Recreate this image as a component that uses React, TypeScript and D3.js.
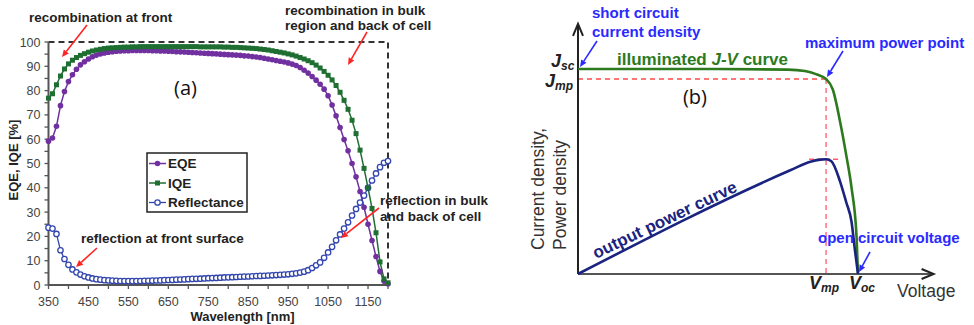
import React from "react";
import * as d3 from "d3";

// ---------- Panel (a): quantum efficiency and reflectance ----------
const wavelengths = [
  350, 360, 370, 380, 390, 400, 410, 420, 430, 440,
  450, 460, 470, 480, 490, 500, 510, 520, 530, 540,
  550, 560, 570, 580, 590, 600, 610, 620, 630, 640,
  650, 660, 670, 680, 690, 700, 710, 720, 730, 740,
  750, 760, 770, 780, 790, 800, 810, 820, 830, 840,
  850, 860, 870, 880, 890, 900, 910, 920, 930, 940,
  950, 960, 970, 980, 990, 1000, 1010, 1020, 1030, 1040,
  1050, 1060, 1070, 1080, 1090, 1100, 1110, 1120, 1130, 1140,
  1150, 1160, 1170, 1180, 1190, 1200,
];

const eqe = [
  59.2, 60.5, 65.3, 73.8, 79.6, 83.7, 86.5, 88.8, 90.6, 91.9,
  93.0, 93.9, 94.6, 95.1, 95.5, 95.8, 96.0, 96.2, 96.3, 96.4,
  96.4, 96.5, 96.5, 96.5, 96.5, 96.5, 96.4, 96.4, 96.3, 96.3,
  96.2, 96.1, 96.0, 95.95, 95.9, 95.8, 95.7, 95.6, 95.5, 95.4,
  95.3, 95.2, 95.1, 95.0, 94.9, 94.8, 94.7, 94.6, 94.5, 94.3,
  94.2, 94.0, 93.8, 93.6, 93.3, 93.0, 92.7, 92.4, 92.1, 91.8,
  91.4, 90.9, 90.3, 89.5, 88.4, 87.2, 85.8, 84.3, 82.6, 80.6,
  77.9, 74.1, 69.6, 64.8, 59.9, 55.2, 50.0, 44.5, 38.5, 32.0,
  25.0, 18.3, 11.7, 5.6, 1.6, 0.5,
];

const iqe = [
  76.9, 78.7, 82.4, 86.0, 88.9, 91.0, 92.5, 93.6, 94.5, 95.2,
  95.8, 96.3, 96.7, 97.0, 97.3, 97.5, 97.6, 97.7, 97.8, 97.9,
  97.9, 98.0, 98.0, 98.1, 98.1, 98.1, 98.1, 98.1, 98.1, 98.1,
  98.1, 98.1, 98.1, 98.1, 98.1, 98.1, 98.1, 98.1, 98.0, 98.0,
  98.0, 98.0, 98.0, 98.0, 97.9, 97.9, 97.8, 97.8, 97.7, 97.6,
  97.5, 97.4, 97.3, 97.1, 96.9, 96.7, 96.4, 96.1, 95.8, 95.5,
  95.1, 94.7, 94.2, 93.6, 93.0, 92.3, 91.5, 90.5, 89.3, 87.9,
  86.3, 84.4, 82.1, 79.3, 76.0, 72.3, 67.8, 62.3, 55.5, 48.0,
  40.0, 31.5, 21.5, 9.5, 2.5, 0.9,
];

const reflectance = [
  23.6, 23.2, 21.0, 14.3, 10.7, 8.3, 6.4, 5.2, 4.3, 3.6,
  3.1, 2.7, 2.4, 2.2, 2.0, 1.9, 1.8, 1.7, 1.65, 1.6,
  1.6, 1.6, 1.6, 1.65, 1.7, 1.75, 1.8, 1.85, 1.9, 2.0,
  2.05, 2.1, 2.2, 2.25, 2.3, 2.4, 2.5, 2.55, 2.6, 2.7,
  2.8, 2.85, 2.9, 3.0, 3.1, 3.15, 3.2, 3.3, 3.4, 3.45,
  3.5, 3.6, 3.7, 3.75, 3.8, 3.9, 4.0, 4.1, 4.2, 4.3,
  4.4, 4.6, 4.8, 5.1, 5.5, 6.1, 7.0, 8.1, 9.3, 11.2,
  13.4, 15.7, 18.4, 20.8, 23.2, 25.8, 28.6, 31.3, 33.9, 36.8,
  40.0, 43.0, 45.9, 48.5, 50.3, 51.0,
];

const yTicksA = [0, 10, 20, 30, 40, 50, 60, 70, 80, 90, 100];
const yMinorA = [5, 15, 25, 35, 45, 55, 65, 75, 85, 95];
const xTicksA = [350, 450, 550, 650, 750, 850, 950, 1050, 1150];
const xMinorA = [400, 500, 600, 700, 800, 900, 1000, 1100, 1200];

// ---------- Panel (b): schematic J-V and power curves (normalised) ----------
const jvVoltage = [0, 0.5, 0.75, 0.81, 0.85, 0.886, 0.91, 0.936, 0.958, 0.977, 0.995, 1.0];
const jvCurrent = [1, 1, 0.997, 0.99, 0.975, 0.951, 0.9, 0.743, 0.58, 0.42, 0.176, 0];
const powerVoltage = [0, 0.76, 0.83, 0.865, 0.886, 0.905, 0.936, 0.958, 0.977, 0.989, 1.0];
const powerValue = [0, 0.507, 0.548, 0.558, 0.56, 0.55, 0.451, 0.35, 0.254, 0.117, 0];
const vmp = 0.886;
const jmp = 0.951;
const pmax = 0.56;

const FONT = "'Liberation Sans', Arial, Helvetica, sans-serif";
const C_EQE = "#7030a0";
const C_IQE = "#1f6e32";
const C_REF = "#3346b0";
const C_RED = "#ff2424";
const C_LBL = "#2a2aff";
const C_JV = "#2d7a1e";
const C_PWR = "#1a2380";

type ArrowProps = { x1: number; y1: number; x2: number; y2: number; color: string; head?: number };
function Arrow({ x1, y1, x2, y2, color, head = 7 }: ArrowProps) {
  const a = Math.atan2(y2 - y1, x2 - x1);
  const w = head * 0.45;
  const bx = x2 - head * Math.cos(a);
  const by = y2 - head * Math.sin(a);
  const p1 = [bx + w * Math.sin(a), by - w * Math.cos(a)];
  const p2 = [bx - w * Math.sin(a), by + w * Math.cos(a)];
  return (
    <g>
      <line x1={x1} y1={y1} x2={bx} y2={by} stroke={color} strokeWidth={1.6} />
      <path d={`M${x2},${y2}L${p1[0]},${p1[1]}L${p2[0]},${p2[1]}Z`} fill={color} />
    </g>
  );
}

function PanelA() {
  const x = d3.scaleLinear().domain([350, 1200]).range([48.5, 388]);
  const y = d3.scaleLinear().domain([0, 100]).range([285, 42]);
  const line = (vals: number[]) =>
    d3
      .line<number>()
      .x((_, i) => x(wavelengths[i]))
      .y((d) => y(d))(vals) as string;
  const sq = 5;
  return (
    <g fontFamily={FONT}>
      {/* 100 % reference frame */}
      <path
        d={`M${x(350)},${y(100)}H${x(1200)}V${y(0)}`}
        fill="none"
        stroke="#333"
        strokeWidth={2}
        strokeDasharray="6,4"
      />
      {/* axes */}
      <line x1={x(350)} y1={y(0)} x2={x(350)} y2={y(100)} stroke="#555" strokeWidth={2} />
      <line x1={x(350)} y1={y(0)} x2={x(1200)} y2={y(0)} stroke="#555" strokeWidth={2} />
      {yTicksA.concat(yMinorA).map((t) => (
        <line key={"yt" + t} x1={x(350) - 4} x2={x(350)} y1={y(t)} y2={y(t)} stroke="#555" strokeWidth={1.3} />
      ))}
      {xTicksA.concat(xMinorA).map((t) => (
        <line key={"xt" + t} x1={x(t)} x2={x(t)} y1={y(0)} y2={y(0) + 4} stroke="#555" strokeWidth={1.3} />
      ))}
      {yTicksA.map((t) => (
        <text key={"yl" + t} x={x(350) - 8} y={y(t) + 4.5} textAnchor="end" fontSize={12.5} fill="#444">
          {t}
        </text>
      ))}
      {xTicksA.map((t) => (
        <text key={"xl" + t} x={x(t)} y={306} textAnchor="middle" fontSize={12.5} fill="#444">
          {t}
        </text>
      ))}
      <text x={242.5} y={321} textAnchor="middle" fontSize={13} fontWeight="bold" fill="#222">
        Wavelength [nm]
      </text>
      <text transform="translate(18,160) rotate(-90)" textAnchor="middle" fontSize={13} fontWeight="bold" fill="#222">
        EQE, IQE [%]
      </text>

      {/* series */}
      <path d={line(reflectance)} fill="none" stroke={C_REF} strokeWidth={1.3} />
      <path d={line(eqe)} fill="none" stroke={C_EQE} strokeWidth={1.5} />
      <path d={line(iqe)} fill="none" stroke={C_IQE} strokeWidth={1.5} />
      {reflectance.map((v, i) => (
        <circle key={"r" + i} cx={x(wavelengths[i])} cy={y(v)} r={2.7} fill="#fff" stroke={C_REF} strokeWidth={1.3} />
      ))}
      {eqe.map((v, i) => (
        <circle key={"e" + i} cx={x(wavelengths[i])} cy={y(v)} r={2.8} fill={C_EQE} />
      ))}
      {iqe.map((v, i) => (
        <rect key={"q" + i} x={x(wavelengths[i]) - sq / 2} y={y(v) - sq / 2} width={sq} height={sq} fill={C_IQE} />
      ))}

      {/* legend */}
      <rect x={147} y={153} width={100} height={59} fill="#fff" stroke="#222" strokeWidth={1.5} />
      <line x1={149} x2={166} y1={163.5} y2={163.5} stroke={C_EQE} strokeWidth={1.5} />
      <circle cx={157.5} cy={163.5} r={2.8} fill={C_EQE} />
      <text x={168} y={168} fontSize={13.5} fontWeight="bold" fill="#222">EQE</text>
      <line x1={149} x2={166} y1={183} y2={183} stroke={C_IQE} strokeWidth={1.5} />
      <rect x={157.5 - sq / 2} y={183 - sq / 2} width={sq} height={sq} fill={C_IQE} />
      <text x={168} y={187.5} fontSize={13.5} fontWeight="bold" fill="#222">IQE</text>
      <line x1={149} x2={166} y1={202.5} y2={202.5} stroke={C_REF} strokeWidth={1.3} />
      <circle cx={157.5} cy={202.5} r={2.7} fill="#fff" stroke={C_REF} strokeWidth={1.3} />
      <text x={168} y={207} fontSize={13.5} fontWeight="bold" fill="#222">Reflectance</text>

      {/* annotations */}
      <text x={29} y={22} fontSize={13.5} fontWeight="bold" fill="#222">recombination at front</text>
      <Arrow x1={87} y1={25} x2={62} y2={57} color={C_RED} />
      <text x={285} y={15} fontSize={13.5} fontWeight="bold" fill="#222">recombination in bulk</text>
      <text x={285} y={30} fontSize={13.5} fontWeight="bold" fill="#222">region and back of cell</text>
      <Arrow x1={367} y1={32} x2={348} y2={65} color={C_RED} />
      <text x={81} y={243} fontSize={13.5} fontWeight="bold" fill="#222">reflection at front surface</text>
      <Arrow x1={97} y1={248} x2={76} y2={267} color={C_RED} />
      <text x={380} y={205} fontSize={13.5} fontWeight="bold" fill="#222">reflection in bulk</text>
      <text x={380} y={221} fontSize={13.5} fontWeight="bold" fill="#222">and back of cell</text>
      <Arrow x1={379} y1={208} x2={341} y2={238} color={C_RED} />
      <text x={185.5} y={95} textAnchor="middle" fontSize={20} fill="#111" fontFamily="'Open Sans', sans-serif">(a)</text>
    </g>
  );
}

function PanelB() {
  const x = d3.scaleLinear().domain([0, 1]).range([578, 858]);
  const y = d3.scaleLinear().domain([0, 1]).range([274, 69]);
  const jvLine = d3
    .line<number>()
    .x((v) => x(v))
    .y((_, i) => y(jvCurrent[i]))
    .curve(d3.curveMonotoneX)(jvVoltage) as string;
  const pLine = d3
    .line<number>()
    .x((v) => x(v))
    .y((_, i) => y(powerValue[i]))
    .curve(d3.curveMonotoneX)(powerVoltage) as string;
  const xEnd = x(1.27);
  const yTop = y(1.22);
  return (
    <g fontFamily={FONT}>
      {/* maximum power guides */}
      <line x1={x(0)} x2={x(vmp)} y1={y(jmp)} y2={y(jmp)} stroke="#ff4a4a" strokeWidth={1.6} strokeDasharray="5,4" />
      <line x1={x(vmp)} x2={x(vmp)} y1={y(jmp)} y2={y(0)} stroke="#ff7a8a" strokeWidth={1.6} strokeDasharray="5,4" />
      <line x1={x(vmp) - 17} x2={x(vmp) + 14} y1={y(pmax)} y2={y(pmax)} stroke="#ff5a6a" strokeWidth={1.5} strokeDasharray="5,3" />

      {/* axes with arrowheads */}
      <line x1={x(0)} y1={y(0)} x2={x(0)} y2={yTop + 2} stroke="#222" strokeWidth={2} />
      <line x1={x(0)} y1={y(0)} x2={xEnd - 2} y2={y(0)} stroke="#555" strokeWidth={2} />
      <path d={`M${x(0) - 5},${yTop + 12}L${x(0)},${yTop}L${x(0) + 5},${yTop + 12}`} fill="none" stroke="#222" strokeWidth={2} />
      <path d={`M${xEnd - 12},${y(0) - 5}L${xEnd},${y(0)}L${xEnd - 12},${y(0) + 5}`} fill="none" stroke="#222" strokeWidth={2} />

      {/* curves */}
      <path d={jvLine} fill="none" stroke={C_JV} strokeWidth={2.6} />
      <path d={pLine} fill="none" stroke={C_PWR} strokeWidth={2.6} />

      {/* axis labels */}
      <text transform="translate(544,250) rotate(-90)" fontSize={17.5} fill="#333">Current density,</text>
      <text transform="translate(566,250) rotate(-90)" fontSize={17.5} fill="#333">Power density</text>
      <text x={897} y={297} fontSize={17.5} fill="#333">Voltage</text>
      <text x={551} y={67} fontSize={18} fontWeight="bold" fontStyle="italic" fill="#222">
        J<tspan fontSize={12} dy={3}>sc</tspan>
      </text>
      <text x={545} y={87} fontSize={18} fontWeight="bold" fontStyle="italic" fill="#222">
        J<tspan fontSize={12} dy={3}>mp</tspan>
      </text>
      <text x={809} y={289} fontSize={18} fontWeight="bold" fontStyle="italic" fill="#222">
        V<tspan fontSize={12} dy={3}>mp</tspan>
      </text>
      <text x={849} y={289} fontSize={18} fontWeight="bold" fontStyle="italic" fill="#222">
        V<tspan fontSize={12} dy={3}>oc</tspan>
      </text>

      {/* curve labels */}
      <text x={617} y={65} fontSize={17} fontWeight="bold" fill={C_JV}>
        illuminated <tspan fontStyle="italic">J-V</tspan> curve
      </text>
      <text transform="translate(596,259) rotate(-25.6)" fontSize={17} fontWeight="bold" fill={C_PWR}>
        output power curve
      </text>

      {/* callouts */}
      <text x={592} y={18} fontSize={15} fontWeight="bold" fill={C_LBL}>short circuit</text>
      <text x={592} y={37} fontSize={15} fontWeight="bold" fill={C_LBL}>current density</text>
      <Arrow x1={597} y1={41} x2={580} y2={67} color={C_LBL} />
      <text x={805} y={48} fontSize={15} fontWeight="bold" fill={C_LBL}>maximum power point</text>
      <Arrow x1={843} y1={51} x2={827} y2={77} color={C_LBL} />
      <text x={818} y={243} fontSize={15} fontWeight="bold" fill={C_LBL}>open circuit voltage</text>
      <Arrow x1={870} y1={252} x2={859} y2={272} color={C_LBL} />
      <text x={695} y={104} textAnchor="middle" fontSize={20} fill="#111" fontFamily="'Open Sans', sans-serif">(b)</text>
    </g>
  );
}

export default function App() {
  return (
    <svg
      width={974}
      height={325}
      viewBox="0 0 974 325"
      style={{ position: "absolute", left: 0, top: 0, display: "block", background: "#fff" }}
    >
      <rect width={974} height={325} fill="#fff" />
      <PanelA />
      <PanelB />
    </svg>
  );
}
